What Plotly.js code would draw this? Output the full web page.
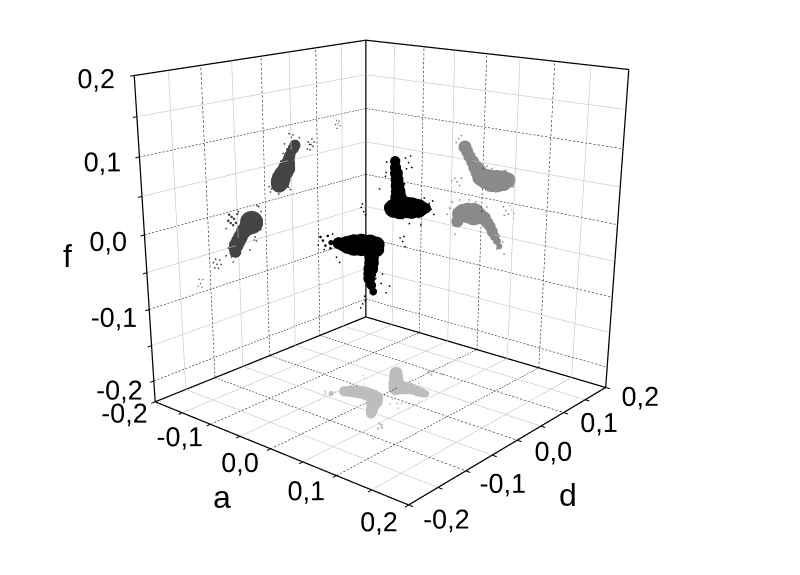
<!DOCTYPE html>
<html><head><meta charset="utf-8"><script src="https://cdn.plot.ly/plotly-3.0.1.min.js"></script>
<style>html,body{margin:0;background:#fff;width:800px;height:575px;overflow:hidden}#w{position:absolute;left:0;top:0;width:800px;height:575px;overflow:hidden}#p{position:absolute;left:-334px;top:-194px;width:1400px;height:1008px}</style></head><body><div id="w"><div id="p"></div></div>
<script>
const ticks=[-0.2,-0.15,-0.1,-0.05,0,0.05,0.1,0.15,0.2];
const labels=['-0,2','','-0,1','','0,0','','0,1','','0,2'];
const fMin=-0.23;
// dark grey: projection on the a=-0,2 wall
const darkD=[0.057,0.054,0.05,0.047,0.045,0.043,0.0405,0.037,0.033,0.03,0.028,0.026,-0.026,-0.033,-0.04,-0.046,-0.05,-0.054,-0.056,-0.056,
 0.066,0.062,0.051,0.047,0.06,0.038,0.035,0.03,0.02,0.017,0.047,0.044,0.025,0.012,0.01,0.008,0.042,0.054,
 0.088,0.083,0.092,0.086,0.094,0.09,0.081,0.085,0.142,0.139,0.146,0.14,0.144,0.137,
 -0.088,-0.083,-0.092,-0.086,-0.094,-0.09,-0.081,-0.117,-0.113,-0.121,-0.115,-0.119,
 -0.056,-0.05,-0.062,-0.06,-0.053,-0.066,-0.058,-0.064,-0.048,-0.07,-0.012,-0.008,-0.015,-0.02,-0.018,-0.01,-0.068,-0.063,-0.06,-0.072,-0.03,-0.022];
const darkF=[0.07,0.066,0.062,0.057,0.052,0.046,0.04,0.036,0.033,0.028,0.0235,0.02,-0.023,-0.028,-0.032,-0.039,-0.044,-0.049,-0.053,-0.058,
 0.079,0.074,0.082,0.088,0.06,0.075,0.062,0.052,0.035,0.018,0.008,0.012,0.006,0.016,0.012,0.02,0.067,0.085,
 0.0654,0.07,0.062,0.058,0.068,0.073,0.06,0.066,0.0865,0.092,0.083,0.08,0.09,0.086,
 -0.068,-0.063,-0.072,-0.074,-0.064,-0.06,-0.07,-0.0874,-0.083,-0.09,-0.093,-0.081,
 -0.0116,-0.006,-0.016,-0.008,-0.018,-0.012,-0.02,-0.004,-0.003,-0.022,-0.004,-0.012,-0.002,-0.046,-0.052,-0.038,-0.05,-0.064,-0.072,-0.06,-0.062,-0.05];
const darkS=[13,13,12,13,14,17,20,20,20,22,22,19,27,20,18,17,17,17,15,14,
 2,2,2,2,2,2,2,2,2,2,2,2,2,2,2,2,2,2,
 2,2,2,2,2,2,2,2,1.5,1.5,1.5,1.5,1.5,1.5,
 2,2,2,2,2,2,2,1.5,1.5,1.5,1.5,1.5,
 3,3,3,3,3,3,3,3,2,2,2,2,2,2,2,2,2,2,2,2,2,2];
// mid grey: projection on the d=0,2 wall
const midA=[-0.03,-0.026,-0.0225,-0.017,-0.012,-0.007,-0.002,0.006,0.014,0.022,0.031,0.039,-0.039,-0.036,-0.03,-0.022,-0.013,-0.005,0.004,0.009,0.014,0.018,0.022,0.026,0.03,
 -0.04,-0.036,-0.044,-0.024,-0.014,0.006,0.014,0.035,0.045,0.05,0.048,0.036,0.02,0.006,
 -0.041,-0.045,-0.037,-0.05,-0.034,0.038,0.034,0.042,0.036,0.047,0.051,0.044,0.05,
 -0.048,-0.052,-0.045,-0.056,-0.042,-0.036,-0.02,-0.01,0.008,0.03,0.035,0.026,0.038,0.012];
const midF=[0.068,0.062,0.056,0.049,0.042,0.036,0.03,0.028,0.027,0.028,0.03,0.032,-0.042,-0.03,-0.0275,-0.026,-0.026,-0.027,-0.029,-0.034,-0.039,-0.046,-0.052,-0.058,-0.065,
 0.078,0.083,0.072,0.074,0.06,0.046,0.044,0.045,0.04,0.034,0.024,0.017,0.012,0.012,
 0.0156,0.02,0.011,0.016,0.022,-0.0117,-0.007,-0.016,-0.019,-0.009,-0.013,-0.004,-0.02,
 -0.015,-0.025,-0.05,-0.035,-0.062,-0.01,-0.007,-0.008,-0.012,-0.05,-0.058,-0.07,-0.075,-0.05];
const midS=[15,14,14,15,17,19,22,24,26,26,24,18,14,17,21,24,26,20,16,14,13,13,11,9,7,
 2,2,2,2,2,2,2,2,2,2,2,2,2,2,
 2,2,2,2,2,2,2,2,2,1.5,1.5,1.5,1.5,
 2,2,2,2,2,2,2,2,2,2,2,2,2,2];
// light grey: projection on the floor
const lightA=[-0.052,-0.0445,-0.04,-0.036,-0.03,-0.024,-0.018,-0.012,-0.006,0,0.005,0.007,0.012,0.018,0.024,
 -0.032,-0.025,-0.017,-0.01,-0.0025,0.004,0.009,0.0154,0.025,0.032,0.038,
 -0.058,-0.062,-0.055,-0.05,-0.003,0.006,0.015,0.03,0.024,0.034,0.018,0.04,0.048,0.005,0.012,0.055,0.06,0.05,0.058,0.066,0.072,-0.06,-0.052,-0.04];
const lightD=[-0.04,-0.024,-0.02,-0.0168,-0.014,-0.0114,-0.012,-0.012,-0.013,-0.015,-0.022,-0.0286,-0.035,-0.044,-0.0526,
 0.064,0.055,0.046,0.037,0.028,0.032,0.034,0.037,0.036,0.036,0.036,
 -0.044,-0.04,-0.05,-0.034,0.095,0.09,0.1,-0.01,-0.016,-0.006,-0.004,-0.02,0.01,0.05,0.056,-0.07,-0.075,-0.068,-0.08,-0.1,-0.105,0.03,0.024,0.01];
const lightS=[6,12,13,14,15,15,16,16,17,17,17,16,15,14,12,
 15,16,17,18,18,15,14,13,12,11,9,
 2,2,2,2,3,3,3,2,2,2,2,2,2,2,2,3,3,3,3,2,2,1.5,1.5,1.5];
// black: the points themselves
const blackA=[-0.03,-0.027,-0.023,-0.018,-0.013,-0.012,-0.0115,-0.02,-0.0145,-0.005,0.005,0.015,0.025,0.032,0.04,
 -0.059,-0.0465,-0.04,-0.032,-0.024,-0.015,-0.006,0,0.005,0.012,0.017,0.021,0.022,0.024,0.027,0.03,
 -0.009,-0.014,-0.004,-0.012,-0.006,-0.05,-0.054,-0.047,-0.052,0.02,0.024,0.016,0.022,0.014,0.018,0.011,0.017,
 -0.072,-0.076,-0.068,-0.064,-0.06,-0.07,-0.056,-0.05,-0.045,-0.08,-0.03,-0.028,-0.036,-0.025,-0.018,-0.037,-0.031,-0.024,0.048,0.052,0.045,0.05,0.036,0.03,0.01,0.0,0.028,0.033,0.037,0.043,0.012,0.002];
const blackD=[0.056,0.053,0.05,0.045,0.04,0.04,0.04,0.035,0.035,0.035,0.035,0.032,0.032,0.03,0.028,
 -0.03,-0.03,-0.03,-0.03,-0.028,-0.025,-0.02,-0.015,-0.02,-0.038,-0.044,-0.05,-0.053,-0.056,-0.056,-0.056,
 0.056,0.056,0.056,0.056,0.056,0.0204,0.0204,0.0204,0.0204,0.01,0.01,0.01,0.01,-0.056,-0.056,-0.056,-0.056,
 -0.03,-0.03,-0.03,-0.03,-0.03,-0.03,-0.03,-0.03,-0.03,-0.03,0.04,0.05,0.045,0.055,0.06,0.035,0.04,0.045,0.028,0.028,0.028,0.028,0.03,0.032,0.035,0.035,-0.03,-0.03,-0.05,-0.055,-0.03,-0.03];
const blackF=[0.0744,0.067,0.0605,0.054,0.0476,0.04,0.032,0.018,0.0183,0.02,0.0234,0.025,0.0263,0.028,0.03,
 -0.022,-0.02,-0.02,-0.019,-0.018,-0.0167,-0.016,-0.016,-0.02,-0.024,-0.029,-0.034,-0.04,-0.0446,-0.053,-0.0606,
 0.0756,0.081,0.07,0.067,0.085,0.01,0.015,0.006,0.02,-0.014,-0.02,-0.01,-0.007,-0.081,-0.076,-0.087,-0.07,
 -0.022,-0.018,-0.028,-0.014,-0.03,-0.034,-0.01,-0.04,-0.046,-0.03,0.076,0.07,0.055,0.05,0.045,0.04,0.062,0.082,0.03,0.024,0.037,0.041,0.042,0.005,0.002,0.007,-0.07,-0.06,-0.05,-0.035,-0.055,-0.062];
const blackS=[12,13,15,15,16,17,19,15,22,25,25,25,22,17,12,
 6,14,16,21,25,26,24,19,17,17,17,17,15,14,11,9,
 2,2,2,2,2,2,2,2,2,2,2,2,2,2,2,2,2,
 3,3,3,3,3,2,2,2,2,2,2,2,2,2,2,2,2,2,2,2,2,2,2,2,2,2,2,2,2,2,2,2];
const segs=(list,color,w)=>{const X=[],Y=[],Z=[];list.forEach(([p,q])=>{X.push(p[0],q[0],null);Y.push(p[1],q[1],null);Z.push(p[2],q[2],null);});
 return {type:'scatter3d',mode:'lines',x:X,y:Y,z:Z,line:{color:color,width:w},hoverinfo:'skip',showlegend:false};};
function gridLines(keep){const L=[];
 ticks.forEach((t,i)=>{ if(i==0||i==8||!keep(i))return;
  L.push([[t,-0.2,fMin],[t,0.2,fMin]],[[-0.2,t,fMin],[0.2,t,fMin]],[[t,0.2,fMin],[t,0.2,0.2]],[[-0.2,t,fMin],[-0.2,t,0.2]]);});
 ticks.forEach((t,i)=>{ if(!keep(i)||i==8)return;
  L.push([[-0.2,-0.2,t],[-0.2,0.2,t]],[[-0.2,0.2,t],[0.2,0.2,t]]);});
 return L;}
function dotted(L,n){const out=[];L.forEach(([p,q])=>{for(let k=0;k<n;k++){const s=k/n,e=(k+0.55)/n;
  out.push([p.map((v,j)=>v+(q[j]-v)*s),p.map((v,j)=>v+(q[j]-v)*e)]);}});return out;}
const frameL=[[[-.2,-.2,.2],[-.2,.2,.2]],[[-.2,.2,.2],[.2,.2,.2]],[[.2,.2,.2],[.2,.2,fMin]],[[-.2,-.2,.2],[-.2,-.2,fMin]],[[-.2,.2,.2],[-.2,.2,fMin]],
 [[-.2,-.2,fMin],[-.2,.2,fMin]],[[-.2,.2,fMin],[.2,.2,fMin]],[[-.2,-.2,fMin],[.2,-.2,fMin]],[[.2,-.2,fMin],[.2,.2,fMin]]];
const tickLen=0.006;
const tickL=[];ticks.forEach(t=>{tickL.push([[t,-0.2,fMin],[t,-0.2-tickLen,fMin]],[[0.2,t,fMin],[0.2+tickLen,t,fMin]],[[-0.2,-0.2,t],[-0.2,-0.2-tickLen,t]]);});
const pts=(x,y,z,s,c)=>({type:'scatter3d',mode:'markers',x,y,z,marker:{size:s,color:c,opacity:1,line:{width:0}},hoverinfo:'skip',showlegend:false});
const data=[segs(gridLines(i=>i%2==1),'#c4c4c4',1.2),segs(dotted(gridLines(i=>i%2==0),70),'#222',1.2),segs(frameL,'#000',2.5),segs(tickL,'#000',2),
 pts(lightA,lightD,lightA.map(()=>fMin),lightS,'#bdbdbd'),
 pts(darkD.map(()=>-0.2),darkD,darkF,darkS,'#444'),
 pts(midA,midA.map(()=>0.2),midF,midS,'#8a8a8a'),
 pts(blackA,blackD,blackF,blackS,'#000')];
const ax=(range)=>({title:{text:''},range,tickvals:ticks,ticktext:labels,tickangle:0,showgrid:false,zeroline:false,showbackground:false,showline:false,showspikes:false,ticks:'outside',ticklen:11,tickcolor:'#fff',tickwidth:1,tickfont:{size:18,family:'Arial, Liberation Sans',color:'#000'},autorange:false});
const W=1400,H=1008,LL=-334,TT=-194;
const ann=(t,x,y)=>({text:t,xref:'paper',yref:'paper',xanchor:'center',yanchor:'middle',x:(x-LL)/W,y:1-(y-TT)/H,showarrow:false,font:{size:32,family:'Arial, Liberation Sans',color:'#000'}});
const layout={paper_bgcolor:'#fff',margin:{l:0,r:0,t:0,b:0},width:W,height:H,showlegend:false,
 annotations:[ann('f',67,256),ann('a',222,497),ann('d',568,495)],
 scene:{domain:{x:[0,1],y:[0,1]},aspectmode:'manual',aspectratio:{x:1.03,y:1.03,z:1.0},
 xaxis:ax([-0.2065,0.2065]),yaxis:ax([-0.2065,0.2065]),zaxis:ax([fMin-0.0005,0.2005]),
 camera:{eye:{x:2.22,y:-2.682,z:1.036},center:{x:-0.1,y:0.033,z:-0.251},projection:{type:'perspective'}}}};
Plotly.newPlot('p',data,layout,{displayModeBar:false});
</script></body></html>
